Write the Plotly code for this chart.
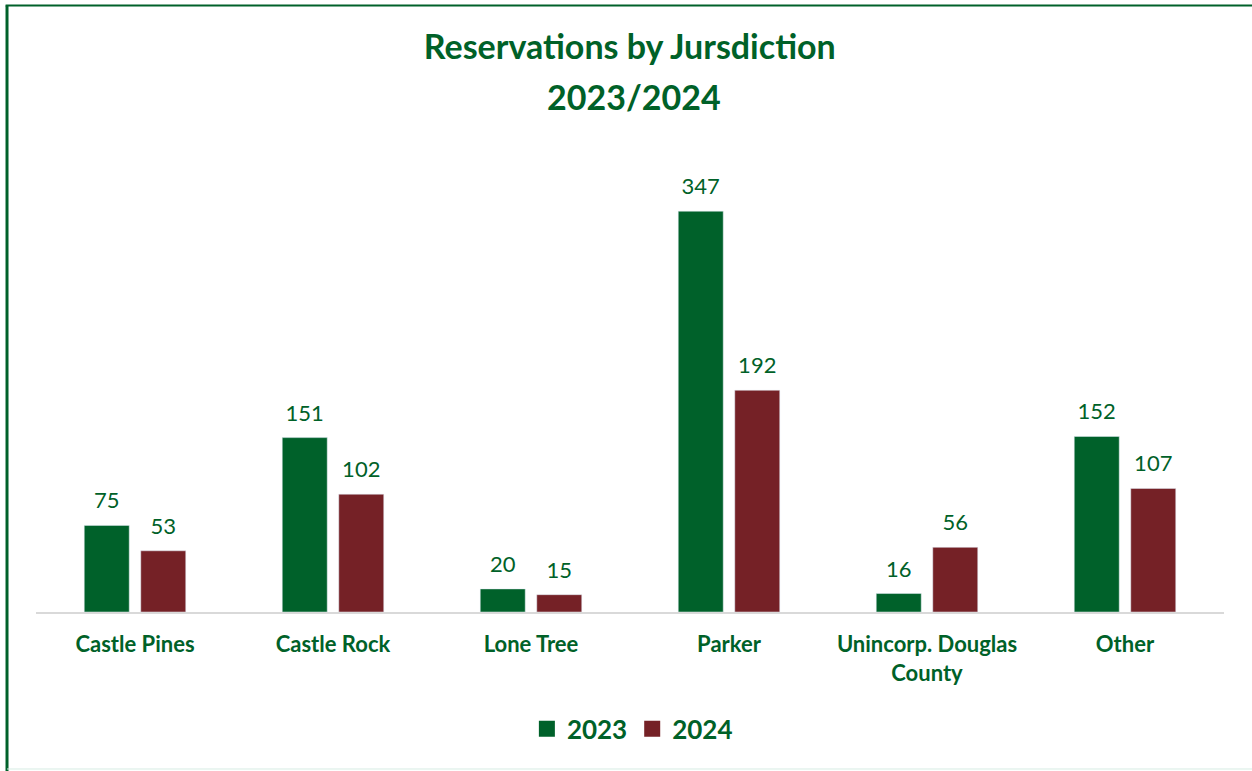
import plotly.graph_objects as go

categories = ["Castle Pines", "Castle Rock", "Lone Tree", "Parker", "Unincorp. Douglas<br>County", "Other"]
values_2023 = [75, 151, 20, 347, 16, 152]
values_2024 = [53, 102, 15, 192, 56, 107]
title_line1 = "Reservations by Jursdiction"
title_line2 = "2023/2024"

GREEN = "#00612A"
RED = "#752126"
TXT = "#006128"
FONT = "Lato"

PAD = "<span style='font-size:66px'>\u00a0</span>"
fig = go.Figure()
series = [("2023", values_2023, GREEN), ("2024", values_2024, RED)]
for name, vals, col in series:
    fig.add_trace(go.Bar(name=name, x=categories, y=vals, marker_color=col,
                         text=vals, texttemplate=PAD + "%{text}" + PAD, textposition="outside",
                         cliponaxis=False, constraintext="none", showlegend=False,
                         textfont=dict(color=TXT, size=22, family=FONT)))
# legend entries with larger square swatches
for name, vals, col in series:
    fig.add_trace(go.Scatter(name=name, x=[None], y=[None], mode="markers",
                             marker=dict(symbol="square", size=16, color=col)))

fig.update_layout(
    width=1252, height=771,
    paper_bgcolor="white", plot_bgcolor="white",
    margin=dict(l=36, r=28, t=150, b=159),
    barmode="group", bargap=0.429, bargroupgap=0.204,
    title=dict(text="<b>" + title_line1 + "</b>", x=0.503, xanchor="center",
               y=1 - 47 / 771, yref="container", yanchor="middle",
               font=dict(family=FONT, size=34, color=TXT)),
    legend=dict(orientation="h", x=0.502, xanchor="center", y=-0.253, yanchor="middle",
                font=dict(family=FONT, size=26, color=TXT, weight="bold"),
                traceorder="normal", itemsizing="trace"),
    font=dict(family=FONT),
)
fig.add_annotation(text="<b>" + title_line2 + "</b>", xref="paper", yref="paper",
                   x=0.503, y=(612 - 97) / 462, xanchor="center", yanchor="middle",
                   showarrow=False, font=dict(family=FONT, size=34, color=TXT))
fig.update_xaxes(showline=True, linecolor="#d9d9d9", linewidth=2, ticks="",
                 tickfont=dict(family=FONT, size=22, color=TXT, weight="bold"),
                 ticklabelstandoff=12)
fig.update_yaxes(range=[0, 400], visible=False, showgrid=False)

# chart frame
fig.add_shape(type="line", xref="paper", yref="paper", x0=-0.0244, x1=-0.0244, y0=-0.36, y1=1.3128,
              line=dict(color=GREEN, width=3))
fig.add_shape(type="line", xref="paper", yref="paper", x0=-0.0256, x1=1.03, y0=1.3128, y1=1.3128,
              line=dict(color=GREEN, width=2))
fig.add_shape(type="line", xref="paper", yref="paper", x0=-0.0244, x1=1.03, y0=-0.3398, y1=-0.3398,
              line=dict(color="#d6ece3", width=1))

fig.write_html("out.html", config={"displayModeBar": False},
               post_script="document.body.style.margin='0';document.body.style.overflow='hidden';")
